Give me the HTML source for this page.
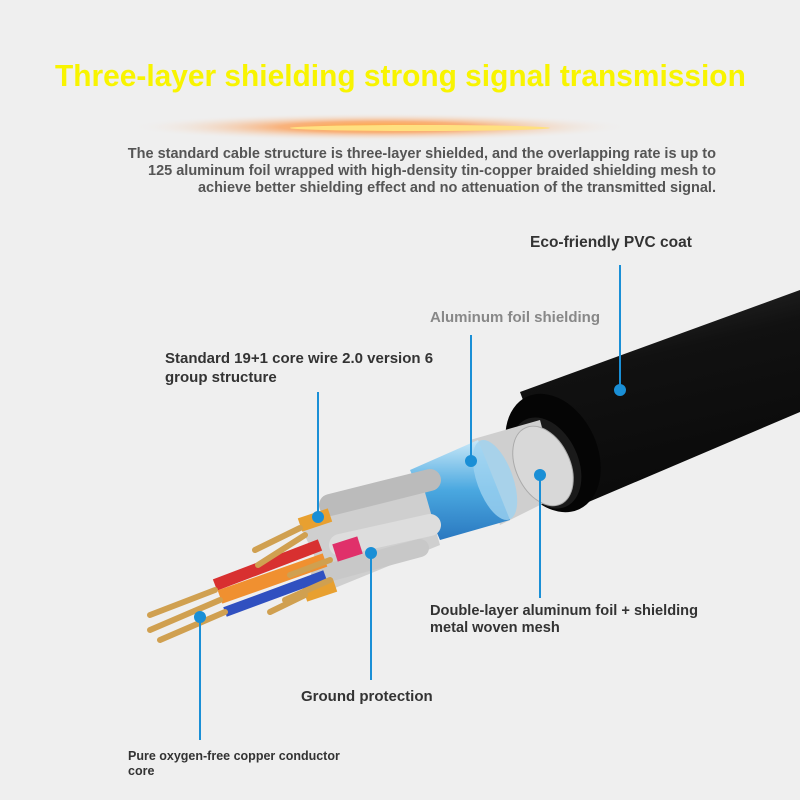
<!DOCTYPE html>
<html><head><meta charset="utf-8"><style>
html,body{margin:0;padding:0;background:#efefef;}
.w{position:relative;width:800px;height:800px;overflow:hidden;background:#efefef;font-family:"Liberation Sans",sans-serif;}
.t{position:absolute;font-weight:bold;white-space:nowrap;}
svg{position:absolute;left:0;top:0;}
</style></head><body><div class="w">
<svg width="800" height="800" viewBox="0 0 800 800">
<defs>
<radialGradient id="fl" cx="0.5" cy="0.5" r="0.5">
<stop offset="0" stop-color="#ffb040" stop-opacity="1"/>
<stop offset="0.4" stop-color="#ff8a30" stop-opacity="0.6"/>
<stop offset="1" stop-color="#efefef" stop-opacity="0"/>
</radialGradient>
<linearGradient id="jk" x1="0" y1="0" x2="0.3" y2="1">
<stop offset="0" stop-color="#333"/><stop offset="0.4" stop-color="#111"/><stop offset="1" stop-color="#0a0a0a"/>
</linearGradient>
<linearGradient id="bl" x1="0" y1="0" x2="0" y2="1">
<stop offset="0" stop-color="#c8e8f8"/><stop offset="0.5" stop-color="#4aa8e0"/><stop offset="1" stop-color="#2a78c0"/>
</linearGradient>
</defs>
<ellipse cx="380" cy="127" rx="250" ry="14" fill="url(#fl)"/>
<ellipse cx="420" cy="128" rx="130" ry="3" fill="#ffe080"/>
<polygon points="520,392 800,290 800,412 565,512" fill="url(#jk)"/>
<ellipse cx="553" cy="453" rx="44" ry="62" transform="rotate(-25 553 453)" fill="#050505"/>
<ellipse cx="546" cy="463" rx="32" ry="48" transform="rotate(-25 546 463)" fill="#1a1a1a"/>
<polygon points="470,440 540,420 560,495 500,525" fill="#cfcfcf"/>
<ellipse cx="543" cy="466" rx="27" ry="42" transform="rotate(-25 543 466)" fill="#d8d8d8" stroke="#aaa"/>
<polygon points="410,470 478,440 510,520 440,540" fill="url(#bl)"/>
<ellipse cx="495" cy="480" rx="18" ry="42" transform="rotate(-20 495 480)" fill="#9ed2f0" opacity="0.8"/>
<polygon points="300,525 420,475 440,545 330,590" fill="#cfcfcf"/>
<line x1="330" y1="505" x2="430" y2="480" stroke="#bbb" stroke-width="22" stroke-linecap="round"/>
<line x1="340" y1="545" x2="430" y2="525" stroke="#ddd" stroke-width="22" stroke-linecap="round"/>
<line x1="320" y1="575" x2="420" y2="548" stroke="#c8c8c8" stroke-width="18" stroke-linecap="round"/>
<line x1="330" y1="515" x2="300" y2="525" stroke="#e8a030" stroke-width="14"/>
<line x1="360" y1="545" x2="335" y2="553" stroke="#e0306a" stroke-width="18"/>
<line x1="335" y1="585" x2="305" y2="595" stroke="#e8a030" stroke-width="14"/>
<line x1="320" y1="545" x2="215" y2="585" stroke="#d83030" stroke-width="12"/>
<line x1="325" y1="560" x2="220" y2="597" stroke="#f09030" stroke-width="14"/>
<line x1="325" y1="575" x2="225" y2="612" stroke="#3050c0" stroke-width="10"/>
<g stroke="#d0a050" stroke-width="6" stroke-linecap="round">
<line x1="300" y1="528" x2="255" y2="550"/><line x1="305" y1="535" x2="258" y2="565"/>
<line x1="215" y1="590" x2="150" y2="615"/><line x1="220" y1="600" x2="150" y2="630"/><line x1="225" y1="612" x2="160" y2="640"/>
<line x1="305" y1="595" x2="270" y2="612"/><line x1="330" y1="580" x2="285" y2="600"/><line x1="330" y1="560" x2="290" y2="575"/>
</g>
<g stroke="#1a8fd6" stroke-width="2" fill="#1a8fd6">
<line x1="620" y1="265" x2="620" y2="390"/><circle cx="620" cy="390" r="5"/>
<line x1="471" y1="335" x2="471" y2="461"/><circle cx="471" cy="461" r="5"/>
<line x1="318" y1="392" x2="318" y2="517"/><circle cx="318" cy="517" r="5"/>
<line x1="540" y1="475" x2="540" y2="598"/><circle cx="540" cy="475" r="5"/>
<line x1="371" y1="553" x2="371" y2="680"/><circle cx="371" cy="553" r="5"/>
<line x1="200" y1="617" x2="200" y2="740"/><circle cx="200" cy="617" r="5"/>
</g>
</svg>
<div class="t" style="left:55px;top:58px;font-size:31px;color:#f8f400;transform:scaleX(0.964);transform-origin:0 0;">Three-layer shielding strong signal transmission</div>
<div class="t" style="right:84px;top:146px;text-align:right;font-size:14.5px;line-height:17px;color:#555;">The standard cable structure is three-layer shielded, and the overlapping rate is up to<br>125 aluminum foil wrapped with high-density tin-copper braided shielding mesh to<br>achieve better shielding effect and no attenuation of the transmitted signal.</div>
<div class="t" style="left:530px;top:234px;font-size:15.5px;color:#333;">Eco-friendly PVC coat</div>
<div class="t" style="left:430px;top:309px;font-size:15px;color:#888;">Aluminum foil shielding</div>
<div class="t" style="left:165px;top:349px;font-size:15px;line-height:19px;color:#333;">Standard 19+1 core wire 2.0 version 6<br>group structure</div>
<div class="t" style="left:430px;top:603px;font-size:14.6px;line-height:17px;color:#333;">Double-layer aluminum foil + shielding<br>metal woven mesh</div>
<div class="t" style="left:301px;top:688px;font-size:15px;color:#333;">Ground protection</div>
<div class="t" style="left:128px;top:749px;font-size:12.5px;line-height:15px;color:#333;">Pure oxygen-free copper conductor<br>core</div>
</div></body></html>
